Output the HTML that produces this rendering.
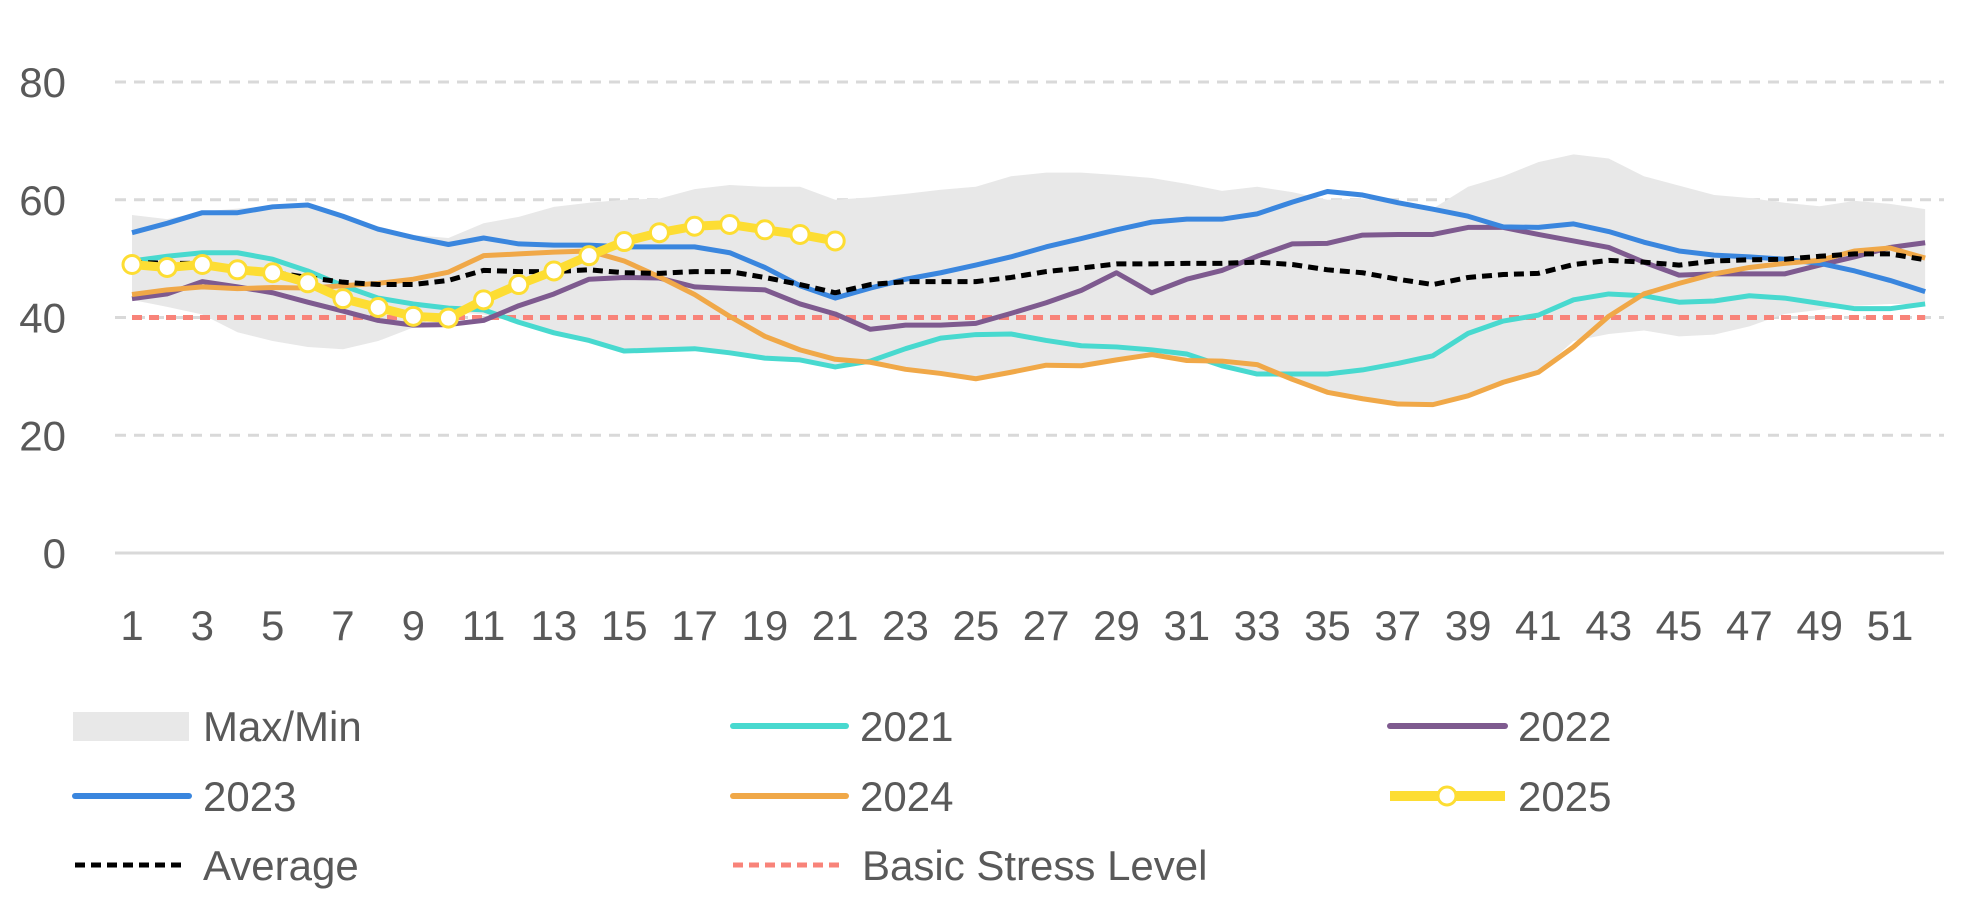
<!DOCTYPE html>
<html><head><meta charset="utf-8"><style>
html,body{margin:0;padding:0;background:#fff;}
svg{display:block;font-family:"Liberation Sans",sans-serif;}
</style></head><body>
<svg id="chart" width="1975" height="900" viewBox="0 0 1975 900" xmlns="http://www.w3.org/2000/svg">
<g id="grid"></g>
<g id="band"></g>
<g id="lines"></g>
<g id="ylabels"></g>
<g id="xlabels"></g>
<g id="legend">
  <rect x="73" y="712" width="116" height="29" fill="#e8e8e8"/>
  <text x="203" y="741" font-size="42" fill="#595959">Max/Min</text>
  <line x1="733" y1="726" x2="846" y2="726" stroke="#48D9CF" stroke-width="6" stroke-linecap="round"/>
  <text x="860" y="741" font-size="42" fill="#595959">2021</text>
  <line x1="1390" y1="726" x2="1505" y2="726" stroke="#7E5A8F" stroke-width="6" stroke-linecap="round"/>
  <text x="1518" y="741" font-size="42" fill="#595959">2022</text>
  <line x1="75" y1="796" x2="189" y2="796" stroke="#3A86DE" stroke-width="6" stroke-linecap="round"/>
  <text x="203" y="811" font-size="42" fill="#595959">2023</text>
  <line x1="733" y1="796" x2="846" y2="796" stroke="#F0A848" stroke-width="6" stroke-linecap="round"/>
  <text x="860" y="811" font-size="42" fill="#595959">2024</text>
  <line x1="1390" y1="796" x2="1505" y2="796" stroke="#FDDD33" stroke-width="10"/>
  <circle cx="1447" cy="796" r="9" fill="#fff" stroke="#FDDD33" stroke-width="3"/>
  <text x="1518" y="811" font-size="42" fill="#595959">2025</text>
  <line x1="75" y1="865" x2="186" y2="865" stroke="#000" stroke-width="5" stroke-dasharray="10 6"/>
  <text x="203" y="880" font-size="42" fill="#595959">Average</text>
  <line x1="733" y1="865" x2="844" y2="865" stroke="#F88379" stroke-width="5" stroke-dasharray="10 6"/>
  <text x="862" y="880" font-size="42" fill="#595959">Basic Stress Level</text>
</g>
</svg>
<script>
const weeks = Array.from({length:52},(_,i)=>i+1);
const yTicks = [0,20,40,60,80];
const xTickLabels = [1,3,5,7,9,11,13,15,17,19,21,23,25,27,29,31,33,35,37,39,41,43,45,47,49,51];
const bandMax = [57.4,56.7,58,58.5,59,59.2,57.5,55.5,54,53.5,56,57.1,58.8,59.5,60,60.2,61.8,62.5,62.2,62.2,60,60.4,61,61.7,62.2,64,64.6,64.6,64.2,63.7,62.7,61.5,62.2,61.3,60,60.2,59.5,58.5,62.2,64,66.4,67.7,67,64,62.4,60.8,60.3,59.5,58.9,59.8,59.3,58.4];
const bandMin = [43,41.8,40.5,37.5,36,35,34.6,36,38.3,41,40.5,39,37.3,36,34.2,34.4,34.6,34,33,32.7,31.5,32.3,31.2,30.5,29.6,30.7,31.9,31.8,32.8,33.7,32.7,31.8,30.4,29.5,27.3,26.2,25.3,25.2,26.7,29,30.7,36,37.2,37.8,36.8,37.1,38.5,40.6,41.3,42,42.3,42.3];
const s2021 = [49.6,50.4,51,51,49.9,47.9,45.4,43.3,42.3,41.6,41.3,39.2,37.4,36.1,34.3,34.5,34.7,34,33.1,32.8,31.6,32.6,34.7,36.5,37.1,37.2,36.1,35.2,35,34.5,33.8,31.8,30.4,30.4,30.4,31.1,32.2,33.5,37.3,39.4,40.4,43,44,43.7,42.6,42.8,43.7,43.3,42.4,41.5,41.5,42.3];
const s2022 = [43.2,44,46.1,45.2,44.2,42.6,41.1,39.5,38.7,38.8,39.5,42,44,46.5,46.8,46.7,45.2,44.9,44.7,42.3,40.6,38,38.7,38.7,39,40.7,42.5,44.6,47.6,44.2,46.5,48,50.4,52.5,52.6,54,54.1,54.1,55.3,55.3,54.1,53,51.9,49.4,47.2,47.4,47.4,47.4,48.9,50.3,51.9,52.7];
const s2023 = [54.4,56,57.8,57.8,58.8,59.1,57.2,55,53.6,52.4,53.5,52.5,52.3,52.3,52,52,52,51,48.5,45.4,43.3,45,46.5,47.6,48.9,50.3,52,53.4,54.9,56.2,56.7,56.7,57.6,59.6,61.4,60.8,59.5,58.4,57.2,55.4,55.3,55.9,54.6,52.8,51.3,50.6,50.3,49.9,49.2,47.9,46.3,44.4];
const s2024 = [43.9,44.7,45.2,44.9,45.1,45,45.4,45.8,46.5,47.7,50.5,50.8,51.1,51.3,49.6,46.9,43.9,40.2,36.8,34.5,32.9,32.4,31.2,30.5,29.6,30.7,31.9,31.8,32.8,33.7,32.7,32.6,32,29.5,27.3,26.2,25.3,25.2,26.7,29,30.7,35,40.2,44,45.8,47.4,48.5,49.2,49.7,51.3,51.8,50.1];
const s2025 = [49,48.5,49,48.1,47.6,45.9,43.2,41.7,40.2,39.9,43,45.6,47.9,50.5,52.9,54.4,55.5,55.8,54.9,54.1,53];
const avg = [49.4,49.2,49.2,48.3,47.7,46.8,46,45.6,45.6,46.3,48,47.8,47.8,48.1,47.6,47.5,47.8,47.8,46.8,45.6,44.2,45.6,46.1,46.1,46.1,46.8,47.8,48.4,49.1,49.1,49.2,49.2,49.4,49,48.1,47.6,46.5,45.6,46.8,47.3,47.5,49,49.7,49.4,48.9,49.6,49.8,49.9,50.4,50.8,50.8,49.8];
const stressLevel = [40];

const NS="http://www.w3.org/2000/svg";
const X0=132, XW=35.16, Y0=553, YU=5.8875;
function xs(w){return X0+(w-1)*XW;}
function ys(v){return Y0-v*YU;}
function mk(tag,attrs,parent){const e=document.createElementNS(NS,tag);for(const k in attrs)e.setAttribute(k,attrs[k]);parent.appendChild(e);return e;}

const grid=document.getElementById('grid');
yTicks.forEach(t=>{
  const l=mk('line',{x1:115,x2:1944,y1:ys(t),y2:ys(t),stroke:'#d9d9d9','stroke-width':3},grid);
  if(t!==0) l.setAttribute('stroke-dasharray','11 8');
  
  
});
const yl=document.getElementById('ylabels');
yTicks.forEach(t=>{
  const e=mk('text',{x:66,y:ys(t)+15,'text-anchor':'end','font-size':42,fill:'#595959'},yl);
  e.textContent=t;
  
  
});
const xl=document.getElementById('xlabels');
xTickLabels.forEach(t=>{
  const e=mk('text',{x:xs(t),y:640,'text-anchor':'middle','font-size':42,fill:'#595959'},xl);
  e.textContent=t;
  
  
});
const band=document.getElementById('band');
let d='';
bandMax.forEach((v,i)=>{d+=(i?'L':'M')+xs(weeks[i])+' '+ys(v);});
for(let i=bandMin.length-1;i>=0;i--) d+='L'+xs(weeks[i])+' '+ys(bandMin[i]);
const bp=mk('path',{d:d+'Z',fill:'#e8e8e8'},band);



const lines=document.getElementById('lines');
function poly(arr,color,w,name,dash){
  const pts=arr.map((v,i)=>xs(weeks[i])+','+ys(v)).join(' ');
  const p=mk('polyline',{points:pts,fill:'none',stroke:color,'stroke-width':w,'stroke-linejoin':'round'},lines);
  if(dash) p.setAttribute('stroke-dasharray',dash);
  
  
}
const sl=mk('line',{x1:xs(1),x2:xs(52),y1:ys(stressLevel[0]),y2:ys(stressLevel[0]),stroke:'#F88379','stroke-width':5,'stroke-dasharray':'10 7'},lines);


poly(s2021,'#48D9CF',5,'line-2021');
poly(s2022,'#7E5A8F',5,'line-2022');
poly(s2023,'#3A86DE',5,'line-2023');
poly(s2024,'#F0A848',5,'line-2024');
poly(avg,'#000',5,'line-average','10 6');
poly(s2025,'#FDDD33',9,'line-2025');
s2025.forEach((v,i)=>{
  const c=mk('circle',{cx:xs(weeks[i]),cy:ys(v),r:9,fill:'#fff',stroke:'#FDDD33','stroke-width':3},lines);
  
  
});
</script>
</body></html>
